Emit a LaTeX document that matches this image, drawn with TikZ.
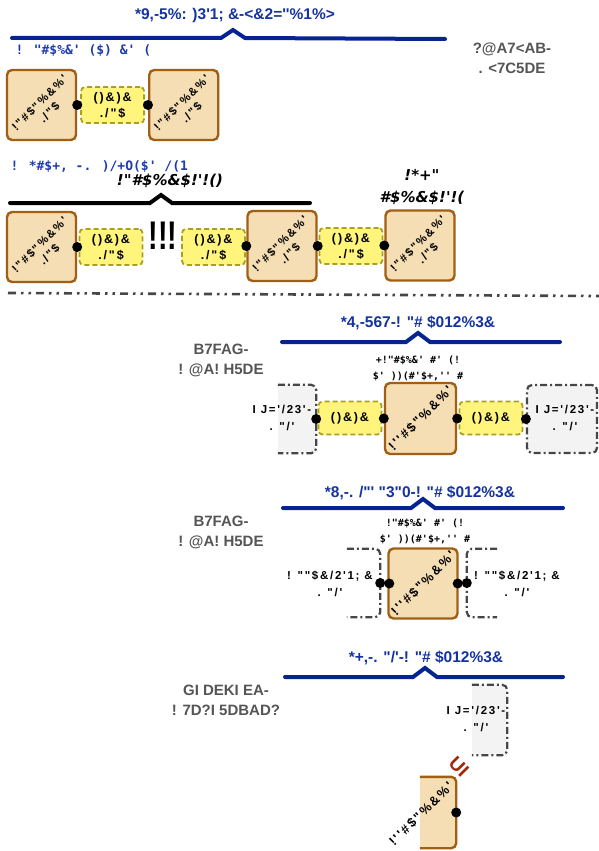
\documentclass[tikz,border=0pt]{standalone}
\usepackage{fontspec}
\setmainfont{Liberation Sans}[Ligatures=TeXOff]
\newfontfamily\widefont{Liberation Sans}[Ligatures=TeXOff,LetterSpace=15]
\newfontfamily\monofont{DejaVu Sans Mono}[Ligatures=TeXOff]
\newfontfamily\slantfont{DejaVu Sans}[Ligatures=TeXOff]
\usepackage{tikz}
\usetikzlibrary{positioning}

\definecolor{unitfill}{RGB}{245,222,179}
\definecolor{unitedge}{RGB}{160,95,20}
\definecolor{linkfill}{RGB}{255,245,125}
\definecolor{linkedge}{RGB}{170,160,30}
\definecolor{portfill}{RGB}{243,243,243}
\definecolor{portedge}{RGB}{70,70,70}
\definecolor{barblue}{RGB}{5,35,145}
\definecolor{titleblue}{RGB}{20,50,160}
\definecolor{hintblue}{RGB}{30,60,175}
\definecolor{notegray}{RGB}{85,85,85}
\definecolor{plugred}{RGB}{160,40,10}

% repeated labels
\newcommand\unitlabel{!"\#\$"\%\&\%'}
\newcommand\sublabel{./"\$}
\newcommand\linklabel{()\&)\&}
\newcommand\portlabel{I J='/23'-\\. "/'}
\newcommand\openlabel{! ""\$\&/2'1; \&\\. "/'}
\newcommand\taglabel{!"\#\$\%\&' \#' (!\\\$' ))(\#'\$+,'' \#}

\begin{document}
\begin{tikzpicture}[x=1pt, y=-1pt,
	unitbox/.style={draw=unitedge, fill=unitfill, line width=2.4pt, rounded corners=5pt, minimum width=69pt, minimum height=70pt, inner sep=0pt},
	unitcell/.style={minimum width=36pt, minimum height=71pt, inner sep=0pt},
	unittext/.style={rotate=45, font=\widefont\bfseries\fontsize{13}{15}\selectfont, align=center, inner sep=0pt},
	unitpair/.style={unittext, font=\widefont\bfseries\fontsize{11.5}{14}\selectfont},
	linkbox/.style={draw=linkedge, fill=linkfill, line width=1.8pt, dash pattern=on 5pt off 3pt, rounded corners=4pt, minimum width=63pt, minimum height=36pt, inner sep=0pt, align=center, font=\widefont\bfseries\fontsize{12.5}{16}\selectfont},
	portcell/.style={minimum height=68pt, inner sep=0pt},
	portline/.style={draw=portedge, line width=2.2pt, dash pattern=on 7pt off 3pt on 2pt off 3pt, rounded corners=5pt},
	porttext/.style={font=\widefont\bfseries\fontsize{11.5}{17}\selectfont, align=center},
	title/.style={font=\bfseries\fontsize{15.5}{18}\selectfont, text=titleblue},
	bluebar/.style={draw=barblue, line width=4pt, line cap=round},
	blackbar/.style={draw=black, line width=4pt, line cap=round},
	hint/.style={font=\monofont\bfseries\fontsize{13}{15}\selectfont, text=hintblue, anchor=west},
	sidenote/.style={font=\bfseries\fontsize{15}{20}\selectfont, text=notegray, align=center},
	tag/.style={font=\monofont\bfseries\fontsize{10}{16}\selectfont, align=center},
	callout/.style={font=\slantfont\bfseries\itshape\fontsize{15}{22}\selectfont, align=center}]
	\useasboundingbox (0,0) rectangle (599,851);

	% first row
	\node[title] (title1) at (235,15) {*9,-5\%: )3'1; \&-<\&2=''\%1\%>};
	\draw[bluebar] (12,38) -- (221,38) -- (233,30) -- (245,38) -- (445,39);
	\node[hint] (hint1) at (12,51) {! "\#\$\%\&' (\$) \&' (};
	\node[sidenote] (note1) at (512,58) {?@A7<AB-\\. <7C5DE};
	\node[unitbox] (u1) at (41.5,105) {};
	\node[unitpair] (u1t) at ([shift={(3,3)}]u1) {\unitlabel\\\sublabel};
	\node[linkbox, right=3pt of u1] (l1) {\linklabel\\\sublabel};
	\node[unitbox, right=3pt of l1] (u2) {};
	\node[unitpair] (u2t) at ([shift={(3,3)}]u2) {\unitlabel\\\sublabel};
	\fill (u1.east) circle (5);
	\fill (u2.west) circle (5);

	% second row
	\node[hint] (hint2) at (7,167) {! *\#\$+, -. )/+O(\$' /(1};
	\node[callout] (call1) at (170,181) {!"\#\$\%\&\$!'!()};
	\draw[blackbar] (10,203) -- (150,203) -- (161,195) -- (172,203) -- (310,203);
	\node[callout] (call2) at (422,187) {!*+"\\\#\$\%\&\$!'!(};
	\node[unitbox] (u3) at (41.5,247) {};
	\node[unitpair] (u3t) at ([shift={(3,3)}]u3) {\unitlabel\\\sublabel};
	\node[linkbox] (l2) at (111,247) {\linklabel\\\sublabel};
	\node[font=\bfseries\fontsize{40}{40}\selectfont, xscale=0.72] (gap) at (163,236) {!!!};
	\node[linkbox] (l3) at (213.5,247) {\linklabel\\\sublabel};
	\node[unitbox] (u4) at (282,246) {};
	\node[unitpair] (u4t) at ([shift={(3,3)}]u4) {\unitlabel\\\sublabel};
	\node[linkbox] (l4) at (351,246) {\linklabel\\\sublabel};
	\node[unitbox] (u5) at (420,245.5) {};
	\node[unitpair] (u5t) at ([shift={(3,3)}]u5) {\unitlabel\\\sublabel};
	\fill (u3.east) circle (5);
	\fill (u4.west) circle (5);
	\fill (u4.east) circle (5);
	\fill (u5.west) circle (5);

	\draw[draw=portedge, line width=2.6pt, dash pattern=on 8pt off 5pt on 2.5pt off 5pt on 2.5pt off 5pt] (8,293) -- (599,296);

	% third row
	\node[title] (title3) at (418,323) {*4,-567-! "\# \$012\%3\&};
	\draw[bluebar] (282,342) -- (406,342) -- (418,333) -- (430,342) -- (560,342);
	\node[sidenote] (note3) at (221,360) {B7FAG-\\! @A! H5DE};
	\node[tag] (tag3) at (418,368) {+\taglabel};
	\node[portcell, minimum width=38pt] (p1) at (297,419) {};
	\fill[portfill] (p1.north west) rectangle (p1.south east);
	\draw[portline] (p1.north west) -- (p1.north east) -- (p1.south east) -- (p1.south west);
	\node[porttext] (p1t) at (282,418) {\portlabel};
	\node[linkbox, minimum height=33pt] (l5) at (350,418) {\linklabel};
	\node[unitbox, minimum width=71pt, minimum height=71pt] (u6) at (420.5,418.5) {};
	\node[unittext] (u6t) at (u6) {!''\#\$"\%\&\%'};
	\node[linkbox, minimum height=33pt] (l6) at (491,418) {\linklabel};
	\node[portcell, minimum width=70pt, fill=portfill, portline] (p2) at (562,419) {};
	\node[porttext] (p2t) at (565,418) {\portlabel};
	\fill (p1.east) circle (5);
	\fill (u6.west) circle (5);
	\fill (u6.east) circle (5);
	\fill (p2.west) circle (5);

	% fourth row
	\node[title] (title4) at (420,493) {*8,-. /"' "3"0-! "\# \$012\%3\&};
	\draw[bluebar] (283,508) -- (411,508) -- (423,499) -- (435,508) -- (563,508);
	\node[sidenote] (note4) at (221,532) {B7FAG-\\! @A! H5DE};
	\node[tag] (tag4) at (425,531) {\taglabel};
	\node[portcell, minimum width=33pt] (b1) at (363.5,583) {};
	\draw[portline] (b1.north west) -- (b1.north east) -- (b1.south east) -- (b1.south west);
	\node[porttext] (b1t) at (330,584) {\openlabel};
	\node[unitbox] (u7) at (423,583.5) {};
	\node[unittext] (u7t) at (u7) {!''\#\$"\%\&\%'};
	\node[portcell, minimum width=30pt] (b2) at (482,583) {};
	\draw[portline] (b2.north east) -- (b2.north west) -- (b2.south west) -- (b2.south east);
	\node[porttext] (b2t) at (517,584) {\openlabel};
	\fill (b1.east) circle (5);
	\fill ([xshift=2pt]u7.west) circle (5);
	\fill ([xshift=-1pt]u7.east) circle (5);
	\fill (b2.west) circle (5);

	% fifth row
	\node[title] (title5) at (426,658) {*+,-. "/'-! "\# \$012\%3\&};
	\draw[bluebar] (285,677) -- (413,677) -- (425,668) -- (437,677) -- (563,677);
	\node[sidenote] (note5) at (226,700) {GI DEKI EA-\\! 7D?I 5DBAD?};
	\node[portcell, minimum width=35pt, minimum height=70pt] (p3) at (489.5,720) {};
	\fill[portfill] (p3.north west) rectangle (p3.south east);
	\draw[portline] (p3.north west) -- (p3.north east) -- (p3.south east) -- (p3.south west);
	\node[porttext] (p3t) at (476,719) {\portlabel};
	\node[font=\bfseries\fontsize{19}{19}\selectfont, text=plugred, rotate=-45] (plug) at (459,767) {UI};
	\node[unitcell] (u8) at (438,812.5) {};
	\fill[unitfill] (u8.north west) rectangle (u8.south east);
	\draw[draw=unitedge, line width=2.4pt, rounded corners=5pt] (u8.north west) -- (u8.north east) -- (u8.south east) -- (u8.south west);
	\node[unittext] (u8t) at (421,814) {!''\#\$"\%\&\%'};
	\fill (u8.east) circle (5);
\end{tikzpicture}
\end{document}
